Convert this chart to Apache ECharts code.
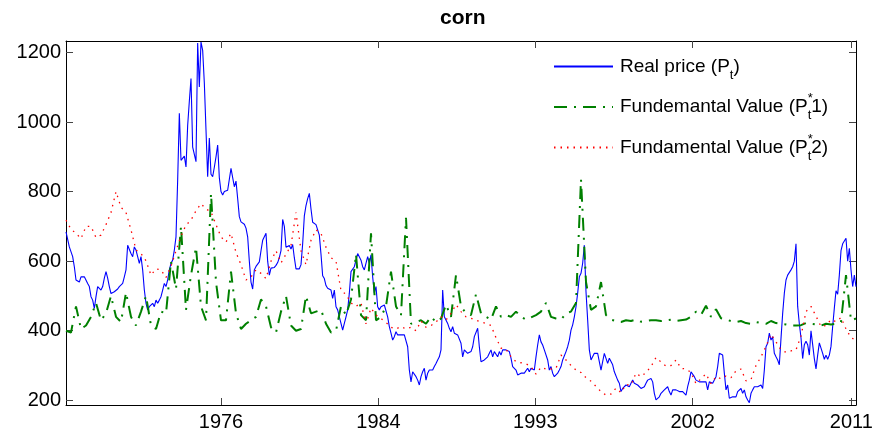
<!DOCTYPE html>
<html>
<head>
<meta charset="utf-8">
<script src="https://cdn.jsdelivr.net/npm/echarts@6/dist/echarts.min.js"></script>
<style>
html,body{margin:0;padding:0;background:#fff}
#c{width:880px;height:438px}
</style>
</head>
<body>
<div id="c"></div>
<script>
// Observation index on the x axis (one step per sample of the real price).
// Tick positions (in sample steps) and their year labels.
const xTickPos = [93, 187.5, 281.6, 376, 471.2];
const xTickLabels = ['1976', '1984', '1993', '2002', '2011'];
const yTicks = [200, 400, 600, 800, 1000, 1200];

// Real price (Pt), one value per sample step
const realPrice = [
684,689,641,645,613,584,546,551,540,555,
560,555,560,536,527,498,488,464,498,527,
531,517,527,551,570,551,527,507,512,512,
512,520,527,532,536,555,575,646,641,622,
613,641,632,613,594,613,575,517,479,460,
469,464,479,469,488,479,488,498,517,536,
527,546,575,594,603,632,670,833,1025,890,
895,902,871,990,1060,1125,928,924,886,1227,
1101,1230,1206,1112,977,843,954,850,843,870,
900,934,840,800,790,800,795,804,800,867,
870,814,830,780,728,713,715,706,695,670,
600,540,520,575,585,590,598,630,660,665,
680,600,560,580,580,582,588,596,610,630,
720,700,640,640,645,635,648,610,578,580,
578,590,650,730,760,780,795,750,712,710,
705,690,675,620,558,550,530,522,527,517,
493,517,469,460,440,421,402,421,440,460,
508,570,565,584,603,622,618,603,584,575,
580,613,594,618,555,508,527,469,460,469,
464,474,469,440,412,393,373,383,397,388,
383,388,393,388,383,354,287,253,282,278,
268,258,244,268,282,292,258,278,287,292,
287,297,306,316,325,345,517,440,440,421,
407,397,412,393,397,388,393,364,325,345,
340,335,340,340,354,383,378,407,354,311,
306,316,316,325,335,345,325,340,345,325,
340,330,345,349,345,345,340,321,297,292,
287,273,273,278,276,278,282,292,282,292,
297,287,325,359,388,368,359,345,349,316,
287,297,278,268,268,278,287,297,316,321,
340,354,373,402,417,440,469,508,555,565,
594,646,512,431,345,316,316,335,330,335,
340,287,311,335,330,306,321,316,302,282,
278,258,249,225,234,234,244,244,239,249,
258,249,253,244,239,234,230,239,249,258,
260,263,253,220,201,203,210,220,220,230,
234,239,225,215,230,234,230,230,225,220,
225,220,215,239,258,282,278,268,258,258,
253,258,253,258,253,230,253,258,249,253,
268,297,335,335,330,278,230,244,206,201,
210,206,210,225,220,234,220,230,210,201,
193,220,230,239,244,239,234,244,234,287,
354,364,393,373,383,335,325,316,302,378,
450,508,546,560,565,575,584,600,650,470,
420,380,320,360,370,360,330,400,360,320,
290,330,365,360,335,318,330,318,330,355,
412,465,515,505,560,630,650,645,666,600,
637,575,527,560,527
];

// Fundamental values, one value every FV_STEP sample steps
const FV_STEP = 3;
const fundamental1 = [
400,395,470,405,415,440,480,430,450,500,
440,425,510,440,415,455,500,415,405,455,
450,600,520,700,460,560,640,470,430,795,
540,430,430,570,450,405,420,430,440,490,
470,410,395,455,500,415,400,405,500,450,
455,460,420,395,400,470,445,490,620,445,
430,680,430,440,470,570,470,445,725,420,
425,430,420,440,425,435,475,440,560,470,
450,445,505,450,440,432,470,440,445,440,
455,440,432,438,445,455,480,440,435,432,
450,455,480,835,540,460,470,540,445,432,
428,425,430,428,432,426,428,430,430,428,
430,432,428,430,432,440,455,445,472,440,
462,436,432,428,425,428,422,420,425,422,
420,428,422,420,418,415,415,416,422,420,
418,415,420,418,420,425,560,430,435
];
const fundamental2 = [
718,692,680,665,700,700,668,675,705,740,
800,755,740,690,632,622,601,560,578,575,
553,585,630,672,704,718,745,765,750,742,
705,670,655,680,625,590,546,555,575,565,
550,600,630,595,620,645,740,630,590,660,
690,680,640,610,600,515,505,480,470,480,
420,465,445,435,424,410,405,412,405,410,
400,428,410,415,425,440,431,450,475,455,
440,436,430,425,421,415,380,350,347,325,
311,308,305,297,275,295,290,290,292,330,
316,300,287,280,265,255,240,225,215,218,
235,222,245,244,278,268,280,297,323,310,
298,300,316,292,290,280,248,262,276,248,
268,262,270,265,285,290,256,260,300,325,
355,390,368,345,338,342,345,385,455,470,
442,412,415,432,426,438,405,380,373
];

const seriesNames = ['Real price (Pt)', 'Fundemantal Value (P*t1)', 'Fundamental Value (P*t2)'];
const legendRich = {
  'Real price (Pt)': '{n|Real price (P}{sub|t}{n|)}',
  'Fundemantal Value (P*t1)': '{n|Fundemantal Value (P}{sup|*}{sub|t}{n|1)}',
  'Fundamental Value (P*t2)': '{n|Fundamental Value (P}{sup|*}{sub|t}{n|2)}'
};

const FONT = 'Liberation Sans, Arial, Helvetica, sans-serif';
const X_MIN = 0, X_MAX = 474;
const Y_MIN = 186.5, Y_MAX = 1233;

const blueData = realPrice.map((v, i) => [i, v]);
const fv1Data = fundamental1.map((v, i) => [i * FV_STEP, v]);
const fv2Data = fundamental2.map((v, i) => [i * FV_STEP, v]);

const tickStyle = { show: true, inside: true, length: 7, lineStyle: { color: '#444', width: 1 } };
const lineAx = { show: true, onZero: false, lineStyle: { color: '#000', width: 1 } };
const xLabelFmt = v => {
  const i = xTickPos.findIndex(p => Math.abs(p - v) < 0.01);
  return i >= 0 ? xTickLabels[i] : '';
};

const chart = echarts.init(document.getElementById('c'), null, { renderer: 'canvas' });
chart.setOption({
  animation: false,
  backgroundColor: '#fff',
  title: {
    text: 'corn',
    left: 440, top: 8, padding: 0,
    textStyle: { fontFamily: FONT, fontSize: 21, fontWeight: 'bold', color: '#000' }
  },
  grid: { left: 66, right: 24, top: 41, bottom: 33, outerBoundsMode: 'none' },
  legend: {
    data: seriesNames,
    orient: 'vertical',
    left: 553, top: 57, padding: 0,
    itemGap: 10.5,
    itemWidth: 59, itemHeight: 14,
    itemStyle: { opacity: 0 },
    formatter: name => legendRich[name],
    textStyle: {
      fontFamily: FONT, fontSize: 19, color: '#000', padding: [0, 0, 0, 2],
      rich: {
        n: { fontFamily: FONT, fontSize: 19, lineHeight: 30, color: '#000' },
        sub: { fontFamily: FONT, fontSize: 13, lineHeight: 12, verticalAlign: 'bottom', color: '#000' },
        sup: { fontFamily: FONT, fontSize: 13, lineHeight: 8, verticalAlign: 'top', width: 0, color: '#000' }
      }
    }
  },
  xAxis: [
    {
      type: 'value', min: X_MIN, max: X_MAX, position: 'bottom',
      axisLine: lineAx,
      axisTick: Object.assign({ customValues: xTickPos }, tickStyle),
      axisLabel: { customValues: xTickPos, formatter: xLabelFmt, margin: 7,
                   fontFamily: FONT, fontSize: 20, color: '#000' },
      splitLine: { show: false }
    },
    {
      type: 'value', min: X_MIN, max: X_MAX, position: 'top',
      axisLine: lineAx,
      axisTick: Object.assign({ customValues: xTickPos }, tickStyle),
      axisLabel: { show: false },
      splitLine: { show: false }
    }
  ],
  yAxis: [
    {
      type: 'value', min: Y_MIN, max: Y_MAX, position: 'left',
      axisLine: lineAx,
      axisTick: Object.assign({ customValues: yTicks }, tickStyle),
      axisLabel: { customValues: yTicks, formatter: v => String(v), margin: 5,
                   fontFamily: FONT, fontSize: 20, color: '#000' },
      splitLine: { show: false }
    },
    {
      type: 'value', min: Y_MIN, max: Y_MAX, position: 'right',
      axisLine: lineAx,
      axisTick: Object.assign({ customValues: yTicks }, tickStyle),
      axisLabel: { show: false },
      splitLine: { show: false }
    }
  ],
  series: [
    {
      name: seriesNames[0], type: 'line', data: blueData,
      symbol: 'none', showSymbol: false,
      lineStyle: { color: '#0000ff', width: 1.1 },
      itemStyle: { color: '#0000ff' }
    },
    {
      name: seriesNames[1], type: 'line', data: fv1Data,
      symbol: 'none', showSymbol: false,
      lineStyle: { color: '#008000', width: 2, type: [13, 7, 2, 7] },
      itemStyle: { color: '#008000' }
    },
    {
      name: seriesNames[2], type: 'line', data: fv2Data,
      symbol: 'none', showSymbol: false,
      lineStyle: { color: '#ff0000', width: 1.3, type: [1.5, 5] },
      itemStyle: { color: '#ff0000' }
    }
  ]
});
</script>
</body>
</html>
